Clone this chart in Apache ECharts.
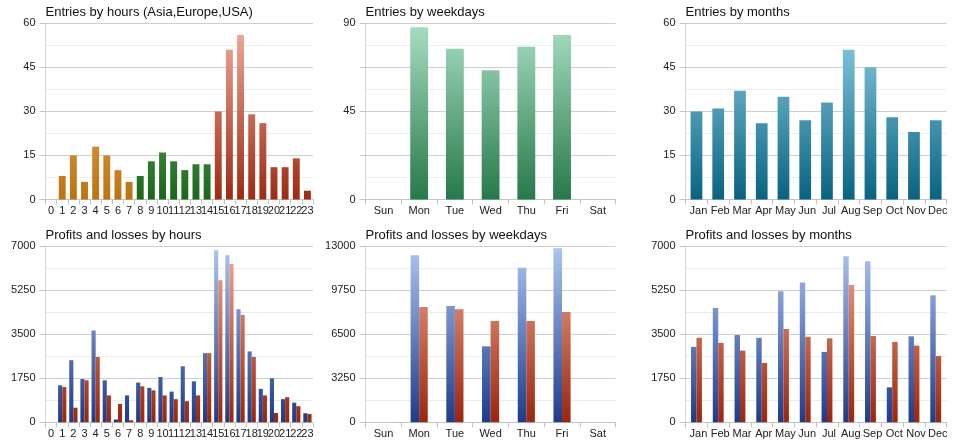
<!DOCTYPE html>
<html>
<head>
<meta charset="utf-8">
<script src="https://cdn.jsdelivr.net/npm/echarts@6/dist/echarts.min.js"></script>
<style>
html,body{margin:0;padding:0;background:#fff;}
#c{width:960px;height:446px;}
</style>
</head>
<body>
<div id="c"></div>
<script>
// ---- data ----
const hours = ['0','1','2','3','4','5','6','7','8','9','10','11','12','13','14','15','16','17','18','19','20','21','22','23'];
const hourRegion = ['Asia','Asia','Asia','Asia','Asia','Asia','Asia','Asia','Europe','Europe','Europe','Europe','Europe','Europe','Europe','USA','USA','USA','USA','USA','USA','USA','USA','USA'];
const entriesByHour = [0,8,15,6,18,15,10,6,8,13,16,13,10,12,12,30,51,56,29,26,11,11,14,3];
const weekdays = ['Sun','Mon','Tue','Wed','Thu','Fri','Sat'];
const entriesByWeekday = [0,88,77,66,78,84,0];
const months = ['Jan','Feb','Mar','Apr','May','Jun','Jul','Aug','Sep','Oct','Nov','Dec'];
const entriesByMonth = [30,31,37,26,35,27,33,51,45,28,23,27];
const profitsByHour = [0,1470,2470,1720,3650,1670,110,1070,1580,1370,1800,1220,2230,1630,2750,6840,6640,4500,2820,1330,1750,920,780,360];
const lossesByHour  = [0,1400,580,1670,2600,1070,730,80,1430,1270,1070,920,840,1070,2750,5650,6300,4270,2600,1070,370,1000,640,330];
const profitsByWeekday = [0,12330,8590,5610,11420,12850,0];
const lossesByWeekday  = [0,8520,8350,7490,7490,8150,0];
const profitsByMonth = [3000,4550,3470,3360,5210,5560,2800,6600,6410,1390,3420,5050];
const lossesByMonth  = [3360,3160,2850,2360,3710,3400,3340,5460,3430,3200,3050,2640];
const ticksEntriesHour = [0,15,30,45,60];
const ticksEntriesWeekday = [0,45,90];
const ticksEntriesMonth = [0,15,30,45,60];
const ticksPLHour = [0,1750,3500,5250,7000];
const ticksPLWeekday = [0,3250,6500,9750,13000];
const ticksPLMonth = [0,1750,3500,5250,7000];
const titles = ['Entries by hours (Asia,Europe,USA)','Entries by weekdays','Entries by months',
  'Profits and losses by hours','Profits and losses by weekdays','Profits and losses by months'];

// ---- layout ----
const FONT = '"Liberation Sans", Arial, sans-serif';
const cols = [{left:45.5,width:267.5},{left:365.6,width:250},{left:685.6,width:261}];
const rows = [{top:23.3,height:176.2},{top:246.3,height:176}];
const grids = [];
for (let r=0;r<2;r++) for (let c=0;c<3;c++) grids.push({left:cols[c].left, top:rows[r].top, width:cols[c].width, height:rows[r].height, containLabel:false});

function grad(gi, top, bottom){
  const g = grids[gi];
  return new echarts.graphic.LinearGradient(0, g.top, 0, g.top+g.height, [{offset:0,color:top},{offset:1,color:bottom}], true);
}
const regionColors = {
  Asia:   ['#f3c684','#bd7210'],
  Europe: ['#86c886','#186818'],
  USA:    ['#f0ae9c','#9e2a12']
};
const profitCol = ['#adc6f2','#1d3b8b'];
const lossCol = ['#f2ac94','#9a260e'];

const yTickSets = [ticksEntriesHour, ticksEntriesWeekday, ticksEntriesMonth, ticksPLHour, ticksPLWeekday, ticksPLMonth];
const cats = [hours, weekdays, months, hours, weekdays, months];
const labelShift = [0,0,4,0,0,4];

const xAxes = cats.map((c,i)=>({
  type:'category', gridIndex:i, data:c, boundaryGap:true,
  axisLine:{show:true, lineStyle:{color:'#c4c4c4', width:1}},
  axisTick:{show:true, alignWithLabel:false, length:5, lineStyle:{color:'#c4c4c4'}},
  axisLabel:{interval:0, color:'#222', fontFamily:FONT, fontSize:11, margin:6, hideOverlap:false,
    padding:[0,0,0,labelShift[i]]},
  splitLine:{show:false}
}));
const yAxes = yTickSets.map((t,i)=>{
  const max = t[t.length-1];
  const step = max/4;
  const labelled = t;
  return {
    type:'value', gridIndex:i, min:0, max:max, interval:step,
    axisLine:{show:true, lineStyle:{color:'#d4d4d4'}},
    axisTick:{show:true, inside:false, length:6, lineStyle:{color:'#c4c4c4'}},
    axisLabel:{color:'#222', fontFamily:FONT, fontSize:11, margin:10,
      formatter:(v)=> labelled.some(x=>Math.abs(x-v)<1e-6) ? String(v) : ''},
    splitLine:{show:true, lineStyle:{color:'#cfcfcf', width:1}},
    minorTick:{show:false, splitNumber:2},
    minorSplitLine:{show:true, lineStyle:{color:'#ececec', width:1}}
  };
});

const titleOpts = titles.map((t,i)=>({
  text:t, left:grids[i].left, top:grids[i].top-17,
  textStyle:{fontFamily:FONT, fontSize:13, fontWeight:'normal', color:'#111'},
  padding:0
}));

const series = [];
series.push({type:'bar', xAxisIndex:0, yAxisIndex:0, barWidth:'62%',
  data: entriesByHour.map((v,k)=>({value:v, itemStyle:{color:grad(0, regionColors[hourRegion[k]][0], regionColors[hourRegion[k]][1])}}))});
series.push({type:'bar', xAxisIndex:1, yAxisIndex:1, barWidth:'50%', data:entriesByWeekday,
  itemStyle:{color:grad(1,'#a8dec3','#26794a')}});
series.push({type:'bar', xAxisIndex:2, yAxisIndex:2, barWidth:'54%', data:entriesByMonth,
  itemStyle:{color:grad(2,'#8fd0e4','#086380')}});
const plSets = [[profitsByHour,lossesByHour,3,'37%'],[profitsByWeekday,lossesByWeekday,4,'24%'],[profitsByMonth,lossesByMonth,5,'25%']];
plSets.forEach(([p,l,gi,w])=>{
  series.push({type:'bar', name:'Profits', xAxisIndex:gi, yAxisIndex:gi, barWidth:w, barGap:'0%', data:p,
    itemStyle:{color:grad(gi, profitCol[0], profitCol[1])}});
  series.push({type:'bar', name:'Losses', xAxisIndex:gi, yAxisIndex:gi, barWidth:w, barGap:'0%', data:l,
    itemStyle:{color:grad(gi, lossCol[0], lossCol[1])}});
});

const chart = echarts.init(document.getElementById('c'), null, {renderer:'canvas'});
chart.setOption({
  animation:false,
  backgroundColor:'#fff',
  title:titleOpts,
  grid:grids,
  xAxis:xAxes,
  yAxis:yAxes,
  series:series
});
</script>
</body>
</html>
